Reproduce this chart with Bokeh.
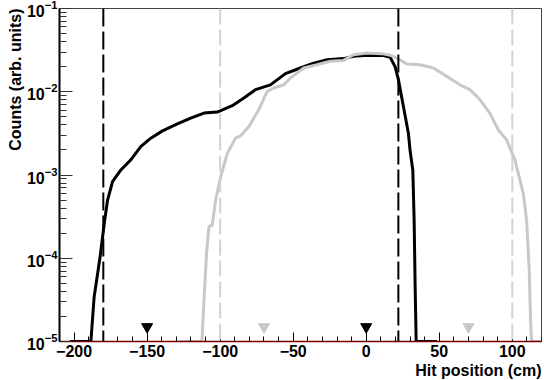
import math
from bokeh.plotting import figure
from bokeh.models import Range1d, FixedTicker, Span, Title
from bokeh.embed import file_html
from bokeh.resources import INLINE

# ---------------- data ----------------
black_x = [-203, -189, -188.5, -186.3, -182.2, -179.4, -177.1, -173.7, -168, -161.2,
           -154.4, -147.5, -139.5, -129.3, -120.2, -111.1, -102, -91.7, -83.8, -75.8,
           -65.6, -55.3, -45.1, -36, -26.8, -15.5, -8.7, 0.5, 11.8, 16.4,
           19.8, 22.1, 25.5, 28.9, 30.0, 31.9, 32.8, 33.5, 34.2, 48.5]
black_y = [1e-5, 1e-5, 1e-5, 3.4e-5, 1.04e-4, 2.6e-4, 5.0e-4, 8.3e-4, 1.15e-3, 1.52e-3,
           2.19e-3, 2.77e-3, 3.39e-3, 4.11e-3, 4.82e-3, 5.54e-3, 5.7e-3, 6.8e-3, 8.4e-3, 1.06e-2,
           1.21e-2, 1.65e-2, 1.93e-2, 2.21e-2, 2.43e-2, 2.5e-2, 2.66e-2, 2.74e-2, 2.72e-2, 2.59e-2,
           2.0e-2, 1.38e-2, 6.6e-3, 3.15e-3, 1.98e-3, 1.14e-3, 2.85e-4, 4.5e-5, 1e-5, 1e-5]

gray_x = [-128, -112.5, -111.1, -109.3, -107.7, -105.4, -103.1, -99.7, -95.1, -89.5,
          -86.1, -80.4, -73.6, -67.8, -63.3, -56.5, -51.9, -42.8, -33.7, -24.6,
          -15.5, -8.7, 0.5, 10.7, 16.4, 22.1, 27.8, 36.9, 46.0, 55.1,
          64.2, 71.0, 77.9, 84.7, 90.4, 96.1, 101.8, 107.5, 109.8, 111.6,
          112.5, 113.2, 120]
gray_y = [1e-5, 1e-5, 3.1e-5, 1.15e-4, 2.4e-4, 2.5e-4, 5.0e-4, 9.5e-4, 1.82e-3, 2.77e-3,
          2.95e-3, 3.8e-3, 6.07e-3, 1.01e-2, 1.11e-2, 1.21e-2, 1.46e-2, 1.93e-2, 2.11e-2, 2.32e-2,
          2.38e-2, 2.79e-2, 2.92e-2, 2.87e-2, 2.75e-2, 2.48e-2, 2.15e-2, 2.11e-2, 1.93e-2, 1.53e-2,
          1.21e-2, 1.06e-2, 8.0e-3, 5.5e-3, 3.48e-3, 2.64e-3, 1.52e-3, 6.0e-4, 2.87e-4, 7.2e-5,
          1.8e-5, 1e-5, 1e-5]

black_markers_x = [-150, 0]
gray_markers_x = [-70, 70]
marker_y = 1.5e-5

black_dashed_x = [-180, 22]
gray_dashed_x = [-100, 100]

x_major = [-200, -150, -100, -50, 0, 50, 100]
x_minor = list(range(-210, 121, 10))
y_major = [1e-5, 1e-4, 1e-3, 1e-2, 1e-1]
y_minor = [m * 10.0 ** e for e in range(-5, -1) for m in range(2, 10)]

x_title = "Hit position (cm)"
y_title = "Counts (arb. units)"

X_MIN, X_MAX = -210, 120
Y_MIN, Y_MAX = 1e-5, 1e-1

FONT = "Liberation Sans"
GRAY = "#c8c8c8"

# ---------------- figure ----------------
p = figure(width=544, height=380,
           x_range=Range1d(X_MIN, X_MAX), y_range=Range1d(Y_MIN, Y_MAX),
           y_axis_type="log", output_backend="svg", toolbar_location=None,
           min_border_left=59, min_border_right=3, min_border_top=8, min_border_bottom=39)
p.background_fill_color = "white"
p.border_fill_color = "white"
p.grid.visible = False
p.outline_line_color = "#444444"
p.outline_line_width = 1

xa = p.xaxis[0]
xa.ticker = FixedTicker(ticks=x_major, minor_ticks=x_minor)
xa.major_tick_in = 9
xa.major_tick_out = 0
xa.minor_tick_in = 5
xa.minor_tick_out = 0
xa.axis_line_color = "#7a0000"
xa.axis_line_width = 1.5
xa.major_tick_line_color = "black"
xa.minor_tick_line_color = "black"
xa.major_label_text_font = FONT
xa.major_label_text_font_style = "bold"
xa.major_label_text_font_size = "16px"
xa.major_label_text_color = "black"
xa.major_label_standoff = 3

ya = p.yaxis[0]
ya.ticker = FixedTicker(ticks=y_major, minor_ticks=y_minor)
ya.major_tick_in = 13
ya.major_tick_out = 0
ya.minor_tick_in = 7
ya.minor_tick_out = 0
ya.axis_line_color = "black"
ya.axis_line_width = 2
ya.major_tick_line_color = "#333333"
ya.minor_tick_line_color = "#333333"
ya.major_label_text_font = FONT
ya.major_label_text_font_style = "bold"
ya.major_label_text_font_size = "16px"
ya.major_label_text_color = "black"
ya.major_label_standoff = 2

# dashed vertical lines
for xv in gray_dashed_x:
    p.add_layout(Span(location=xv, dimension="height", line_color="#d2d2d2",
                      line_width=2, line_dash="16 5"))
for xv in black_dashed_x:
    p.add_layout(Span(location=xv, dimension="height", line_color="black",
                      line_width=2, line_dash="18 5"))

# curves
p.line(black_x, black_y, line_color="black", line_width=3)
p.line(gray_x, gray_y, line_color=GRAY, line_width=3)

# markers
p.scatter(black_markers_x, [marker_y] * len(black_markers_x), marker="inverted_triangle",
          size=11, fill_color="black", line_color="black")
p.scatter(gray_markers_x, [marker_y] * len(gray_markers_x), marker="inverted_triangle",
          size=11, fill_color=GRAY, line_color=GRAY)

# right frame edge (red)
p.add_layout(Span(location=X_MAX, dimension="height", line_color="#dd0000", line_width=1))

# axis titles (ROOT style, aligned to axis ends)
p.add_layout(Title(text=y_title, align="right", text_font=FONT, text_font_style="bold",
                   text_font_size="16px", text_color="black", standoff=0, offset=0), "left")
p.add_layout(Title(text=x_title, align="right", text_font=FONT, text_font_style="bold",
                   text_font_size="16px", text_color="black", standoff=0, offset=0), "below")

open("out.html", "w").write(file_html(p, INLINE))
